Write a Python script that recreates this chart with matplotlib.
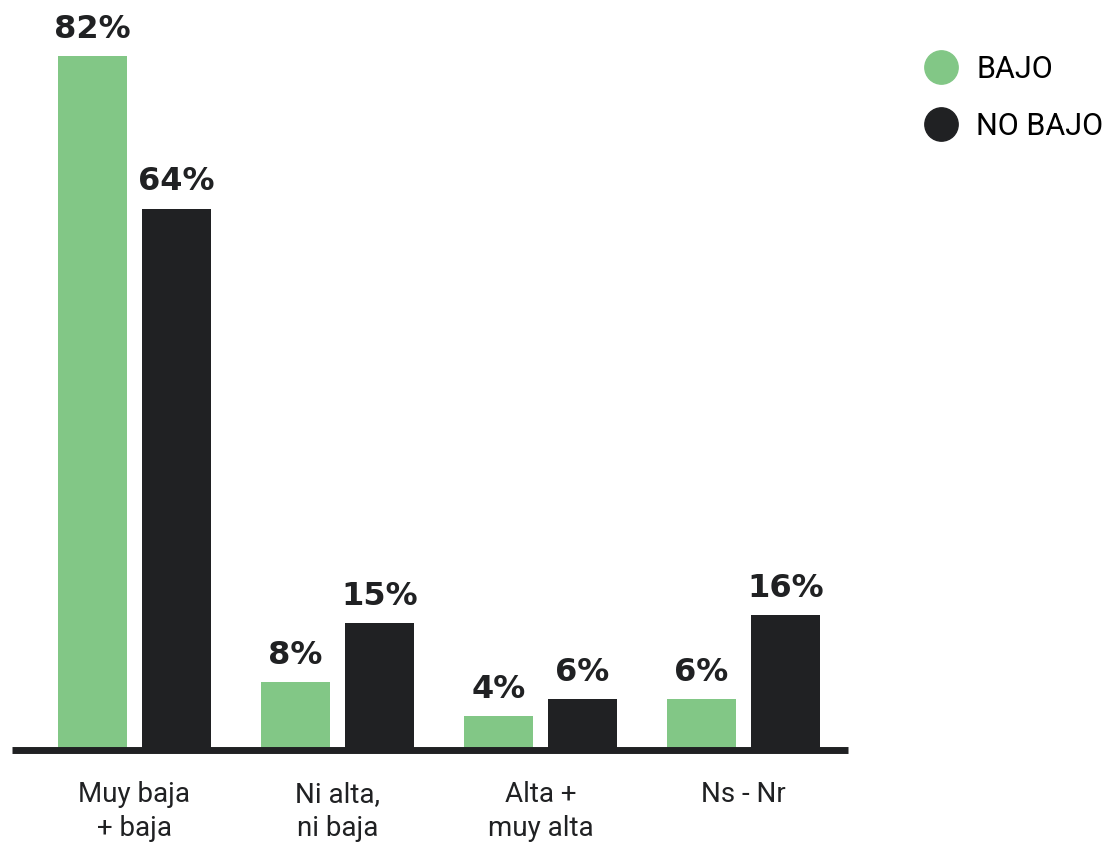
import matplotlib
matplotlib.use("Agg")
import matplotlib.pyplot as plt
from matplotlib.lines import Line2D
import numpy as np

# data
categories = ["Muy baja\n+ baja", "Ni alta,\nni baja", "Alta +\nmuy alta", "Ns - Nr"]
bajo = [82, 8, 4, 6]
no_bajo = [64, 15, 6, 16]
series_names = ["BAJO", "NO BAJO"]

green = "#82c786"
dark = "#202123"
narrow = ['Roboto', 'DejaVu Sans']

plt.rcParams['font.family'] = ['DejaVu Sans']

fig = plt.figure(figsize=(11.11, 8.46), dpi=100)
ax = fig.add_axes([0.0108, 0.1135, 0.7525, 0.8865])

x = np.arange(len(categories))
w = 0.34
off = 0.207

b1 = ax.bar(x - off, bajo, width=w, color=green, zorder=2)
b2 = ax.bar(x + off, no_bajo, width=w, color=dark, zorder=2)

for bars, vals in [(b1, bajo), (b2, no_bajo)]:
  for rect, v in zip(bars, vals):
    ax.annotate(f"{v}%", (rect.get_x() + rect.get_width() / 2, v),
                xytext=(0, 8), textcoords="offset points",
                ha="center", va="bottom", fontsize=23, fontweight="bold",
                color=dark)

ax.axhline(0, color=dark, linewidth=5, zorder=3, clip_on=False,
           solid_capstyle="butt")

ax.set_xlim(-0.603, 3.515)
ax.set_ylim(0, 88.65)
ax.set_xticks(x)
ax.set_xticklabels(categories, fontsize=20, color=dark, linespacing=1.35,
                   family=narrow)
ax.tick_params(axis="x", length=0, pad=22)
ax.set_yticks([])
for s in ax.spines.values():
  s.set_visible(False)

handles = [Line2D([], [], marker="o", linestyle="none", markersize=24,
                  markerfacecolor=c, markeredgecolor=c) for c in (green, dark)]
fig.legend(handles, series_names, loc="upper left",
           bbox_to_anchor=(0.818, 0.953), frameon=False, borderpad=0,
           handlelength=1.1, handletextpad=0.6, labelspacing=0.92,
           prop={'family': narrow, 'size': 22})

fig.savefig("out.png", dpi=100)
